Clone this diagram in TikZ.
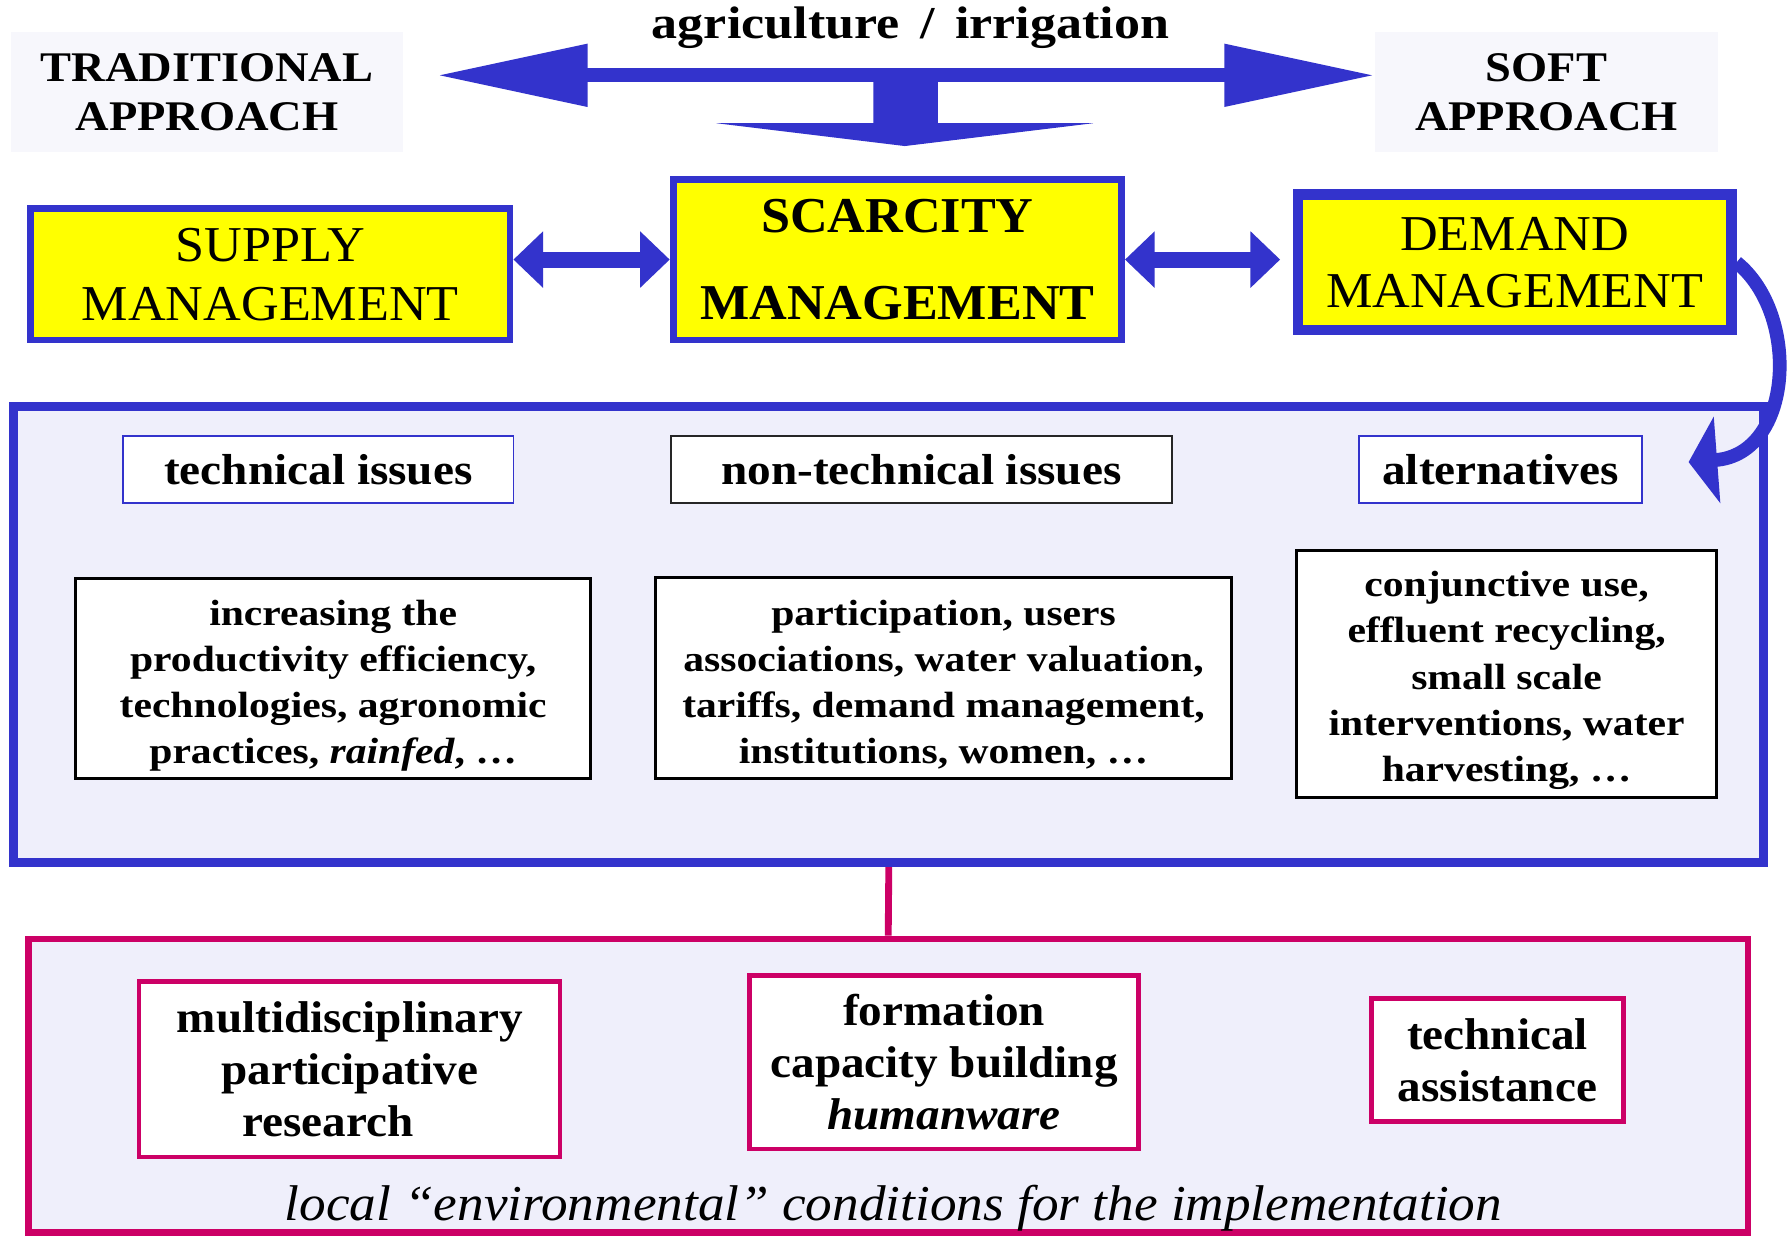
\documentclass[tikz,border=0pt]{standalone}
\usepackage{fontspec}
\setmainfont{Liberation Serif}
\newfontfamily\stA[FakeStretch=1.14]{Liberation Serif}
\newfontfamily\stB[FakeStretch=1.09]{Liberation Serif}
\newfontfamily\stC[FakeStretch=1.10]{Liberation Serif}
\newfontfamily\stD[FakeStretch=1.04]{Liberation Serif}
\newfontfamily\stE[FakeStretch=1.06]{Liberation Serif}
\usetikzlibrary{arrows.meta}
\definecolor{bblue}{RGB}{51,51,204}
\definecolor{mag}{RGB}{204,0,102}
\definecolor{lav}{RGB}{239,239,251}
\definecolor{faint}{RGB}{247,247,252}
\definecolor{yel}{RGB}{255,255,0}
\newcommand\fsz[2]{\fontsize{#1}{#2}\selectfont}
\tikzset{
  approach/.style={fill=faint, inner sep=0pt, align=center, font={\stC\bfseries\fsz{18.5pt}{21.5pt}}},
  mgmt/.style={draw=bblue, fill=yel, line width=3pt, align=center, inner sep=0pt},
  panel/.style={fill=lav, inner sep=0pt},
  hdr/.style={fill=white, line width=0.8pt, inner sep=0pt, font={\stB\bfseries\fsz{19pt}{23pt}}},
  bodybox/.style={draw=black, fill=white, line width=1.3pt, inner sep=0pt},
  bodytext/.style={align=center, inner sep=0pt, font={\stA\bfseries\fsz{16pt}{20.2pt}}},
  mbox/.style={draw=mag, fill=white, line width=2pt, align=center, inner sep=0pt, font={\stE\bfseries\fsz{19.5pt}{22.75pt}}},
  bigarrow/.style={draw=bblue, line width=6pt, {Triangle[length=66pt,width=26pt]}-{Triangle[length=66pt,width=26pt]}},
  midarrow/.style={draw=bblue, line width=7pt, {Triangle[length=13pt,width=24pt]}-{Triangle[length=13pt,width=24pt]}},
  curvearrow/.style={draw=bblue, line width=6pt, -{Triangle[length=12.5pt,width=37.5pt]}},
}
\begin{document}
\begin{tikzpicture}[x=0.5pt,y=-0.5pt]
\useasboundingbox[fill=white] (0,0) rectangle (1568,1083);

% panels
\node[panel, draw=bblue, line width=4pt, minimum width=767pt, minimum height=200pt] (bluepanel) at (779,556) {};
\node[panel, draw=mag, line width=3pt, minimum width=753.5pt, minimum height=128.5pt] (magpanel) at (778.5,951.5) {};
\draw[mag, line width=3pt] (bluepanel.south) -- (magpanel.north);

% top
\node[font={\stA\bfseries\fsz{20pt}{24pt}}] (agri) at (798,24) {agriculture \,/\, irrigation};
\node[approach, minimum width=171.5pt, minimum height=52.5pt] (trad) at (181.5,80.5) {TRADITIONAL\\APPROACH};
\node[approach, minimum width=150.5pt, minimum height=52.5pt] (soft) at (1355.5,80.5) {SOFT\\APPROACH};
\coordinate (tl) at (383,66);
\coordinate (tr) at (1205,66);
\coordinate (dtip) at (793,128);
% downward block arrow (stem + flat head)
\fill[bblue] ([xshift=-13.75pt]dtip |- tl) -- ([xshift=14.5pt]dtip |- tl)
  -- ([xshift=14.5pt,yshift=10pt]dtip) -- ([xshift=82.5pt,yshift=10pt]dtip)
  -- (dtip) -- ([xshift=-82.5pt,yshift=10pt]dtip) -- ([xshift=-13.75pt,yshift=10pt]dtip) -- cycle;
\draw[bigarrow] (tl) -- (tr);

% management boxes
\node[mgmt, minimum width=210pt, minimum height=57.5pt, font={\stD\fsz{22pt}{26pt}}] (supply) at (237,240.5) {SUPPLY\\MANAGEMENT};
\node[mgmt, minimum width=196.5pt, minimum height=70.5pt, font={\stD\bfseries\fsz{22pt}{38.5pt}}] (scarcity) at (786.5,227.5) {SCARCITY\\MANAGEMENT};
\node[mgmt, line width=4.5pt, minimum width=190pt, minimum height=59.5pt, font={\stD\fsz{22pt}{25pt}}] (demand) at (1327.5,230) {DEMAND\\MANAGEMENT};
\draw[midarrow] (supply.east |- scarcity.west) -- (scarcity.west);
\draw[midarrow, shorten >=5.5pt] (scarcity.east) -- (demand.west |- scarcity.east);

% headers
\node[hdr, draw=bblue, minimum width=171pt, minimum height=29.5pt] (tech) at (279,411.5) {technical issues};
\node[hdr, draw=black!85, minimum width=219.5pt, minimum height=29.5pt] (nontech) at (807.5,411.5) {non-technical issues};
\node[hdr, draw=bblue, minimum width=124pt, minimum height=29.5pt] (alt) at (1315,411.5) {alternatives};

% curved arrow
\coordinate (ctip) at (1480,405);
\draw[curvearrow] (demand.east) .. controls (1578,275) and (1572,398) .. (ctip);

% body boxes
\node[bodybox, minimum width=225.7pt, minimum height=87.7pt] (b1) at (292,595) {};
\node[bodytext] (b1t) at ([yshift=-2.9pt]b1.center) {increasing the\\productivity efficiency,\\technologies, agronomic\\practices, \textit{rainfed}, \dots};
\node[bodybox, minimum width=252.7pt, minimum height=88.2pt] (b2) at (827,594.5) {};
\node[bodytext] (b2t) at ([yshift=-2.9pt]b2.center) {participation, users\\associations, water valuation,\\tariffs, demand management,\\institutions, women, \dots};
\node[bodybox, minimum width=184.2pt, minimum height=108.2pt] (b3) at (1320.5,590.5) {};
\node[bodytext] (b3t) at ([yshift=-2.9pt]b3.center) {conjunctive use,\\effluent recycling,\\small scale\\interventions, water\\harvesting, \dots};

% magenta boxes
\node[mbox, minimum width=184.5pt, minimum height=77pt] (m1) at (306.5,937) {multidisciplinary\\participative\\research\hspace*{19pt}};
\node[mbox, minimum width=170.5pt, minimum height=76pt] (m2) at (827.5,931) {formation\\capacity building\\\textit{humanware}};
\node[mbox, minimum width=110.5pt, minimum height=54pt] (m3) at (1312.5,929) {technical\\assistance};
\node[font={\stE\itshape\fsz{22pt}{26pt}}] (impl) at (783,1059) {local “environmental” conditions for the implementation};
\end{tikzpicture}
\end{document}
